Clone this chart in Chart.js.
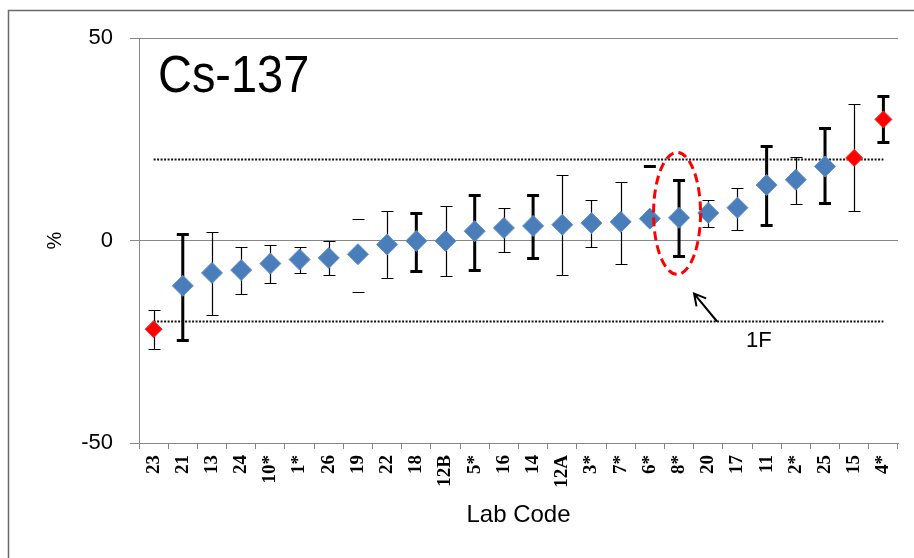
<!DOCTYPE html>
<html>
<head>
<meta charset="utf-8">
<script src="https://cdn.jsdelivr.net/npm/chart.js@4"></script>
<style>
  html, body { margin:0; padding:0; background:#fff; overflow:hidden; }
  #wrap { position:relative; width:914px; height:558px; }
</style>
</head>
<body>
<div id="wrap"><canvas id="labChart"></canvas></div>
<script>
// Cs-137 intercomparison: relative deviation of each lab from the reference value (%)
const labCodes = ["23","21","13","24","10*","1*","26","19","22","18","12B","5*","16","14","12A","3*","7*","6*","8*","20","17","11","2*","25","15","4*"];
const deviation  = [-21.9,-11.2,-8.0,-7.3,-5.7,-4.7,-4.3,-3.4,-1.0,-0.1,-0.1,2.3,3.1,3.6,3.9,4.3,4.6,5.4,5.6,6.8,8.1,13.7,15.0,18.3,20.4,29.9];
const upperBound = [-17.1,1.6,2.1,-1.6,-1.0,-1.6,-0.1,5.4,7.3,6.9,8.5,11.3,8.1,11.3,16.1,10.0,14.5,18.4,14.9,10.0,13.0,23.4,20.7,27.7,33.6,35.7];
const lowerBound = [-26.8,-24.6,-18.3,-13.3,-10.6,-8.1,-8.4,-12.7,-9.2,-7.6,-8.8,-7.2,-2.8,-4.4,-8.4,-1.6,-5.9,5.4,-3.8,3.4,2.6,3.8,8.9,9.3,7.3,24.4];

const outsideLimit = ["23","15","4*"];                            // red markers
const thickBars = ["21","18","5*","14","6*","8*","11","25","4*"]; // heavy error bars
const capsOnly = ["19","6*"];                                     // no stem drawn
const limitPct = 20;
const yTicks = [-50, 0, 50];

const flaggedLab = "8*";
const flagText = "1F";
const titleText = "Cs-137";

const BLUE = "#4a7ebb";
const RED = "#ff0000";
const GRID = "#878787";

// outer frame of the chart object (only top/left edges fall inside the page)
const frame = {
  id: "frame",
  beforeDraw(chart) {
    const ctx = chart.ctx;
    ctx.save();
    ctx.fillStyle = "#fff";
    ctx.fillRect(0, 0, chart.width, chart.height);
    ctx.strokeStyle = "#6a6a6a";
    ctx.lineWidth = 1.5;
    ctx.beginPath();
    ctx.moveTo(8.5, chart.height);
    ctx.lineTo(8.5, 10.5);
    ctx.lineTo(chart.width, 10.5);
    ctx.stroke();
    ctx.restore();
  }
};

// vertical error bars with caps, drawn under the markers
const errorBars = {
  id: "errorBars",
  beforeDatasetsDraw(chart) {
    const { ctx, scales: { x, y } } = chart;
    ctx.save();
    ctx.strokeStyle = "#000";
    labCodes.forEach((lab, i) => {
      const thick = thickBars.includes(lab);
      let px = x.getPixelForValue(i);
      if (!thick) px = Math.round(px) + 0.5;
      const top = Math.round(y.getPixelForValue(upperBound[i])) + 0.5;
      const bot = Math.round(y.getPixelForValue(lowerBound[i])) + 0.5;
      const cap = 6;
      ctx.lineWidth = thick ? 3 : 1.2;
      ctx.beginPath();
      if (!capsOnly.includes(lab)) {
        ctx.moveTo(px, top);
        ctx.lineTo(px, bot);
      }
      ctx.moveTo(px - cap, top);
      ctx.lineTo(px + cap, top);
      ctx.moveTo(px - cap, bot);
      ctx.lineTo(px + cap, bot);
      ctx.stroke();
    });
    ctx.restore();
  }
};

// title, flagged-lab ellipse, arrow and its label
const notes = {
  id: "notes",
  afterDraw(chart) {
    const { ctx, chartArea: a, scales: { x, y } } = chart;

    ctx.save();
    ctx.fillStyle = "#000";
    ctx.font = '51px "Liberation Sans", Arial, sans-serif';
    ctx.textBaseline = "alphabetic";
    ctx.translate(a.left + 19, a.top + 54);
    ctx.scale(0.92, 1);
    ctx.fillText(titleText, 0, 0);
    ctx.restore();

    const fx = x.getPixelForValue(labCodes.indexOf(flaggedLab));

    ctx.save();
    ctx.strokeStyle = RED;
    ctx.lineWidth = 3;
    ctx.setLineDash([9, 5]);
    ctx.beginPath();
    ctx.ellipse(fx - 2, y.getPixelForValue(6.7), 23.5, 61, 0, 0, Math.PI * 2);
    ctx.stroke();
    ctx.restore();

    const tx = fx + 38, ty = y.getPixelForValue(-limitPct);
    const hx = fx + 15, hy = y.getPixelForValue(-13.1);
    const ang = Math.atan2(hy - ty, hx - tx);
    const head = 13;
    ctx.save();
    ctx.strokeStyle = "#000";
    ctx.lineWidth = 2;
    ctx.beginPath();
    ctx.moveTo(tx, ty);
    ctx.lineTo(hx, hy);
    ctx.moveTo(hx - head * Math.cos(ang - 0.5), hy - head * Math.sin(ang - 0.5));
    ctx.lineTo(hx, hy);
    ctx.lineTo(hx - head * Math.cos(ang + 0.5), hy - head * Math.sin(ang + 0.5));
    ctx.stroke();

    ctx.fillStyle = "#000";
    ctx.font = '22px "Liberation Sans", Arial, sans-serif';
    ctx.fillText(flagText, fx + 67, y.getPixelForValue(-26.2));
    ctx.restore();
  }
};

new Chart(document.getElementById("labChart"), {
  type: "line",
  data: {
    labels: labCodes,
    datasets: [
      {
        label: "Deviation",
        data: deviation,
        showLine: false,
        pointStyle: "rectRot",
        pointRadius: labCodes.map(l => outsideLimit.includes(l) ? 8.5 : 10.5),
        pointBackgroundColor: labCodes.map(l => outsideLimit.includes(l) ? RED : BLUE),
        pointBorderColor: labCodes.map(l => outsideLimit.includes(l) ? "#ff2a2a" : "#6390c8"),
        pointBorderWidth: 1
      },
      {
        label: "+limit",
        data: labCodes.map(() => limitPct),
        borderColor: "#111",
        borderWidth: 2,
        borderDash: [2, 1.5],
        pointRadius: 0,
        fill: false
      },
      {
        label: "-limit",
        data: labCodes.map(() => -limitPct),
        borderColor: "#111",
        borderWidth: 2,
        borderDash: [2, 1.5],
        pointRadius: 0,
        fill: false
      }
    ]
  },
  options: {
    responsive: true,
    maintainAspectRatio: false,
    animation: false,
    events: [],
    layout: { padding: { top: 38, right: 16, left: 0, bottom: 0 } },
    plugins: { legend: { display: false }, tooltip: { enabled: false } },
    scales: {
      x: {
        offset: true,
        grid: { offset: true, drawOnChartArea: false, color: GRID, tickLength: 6 },
        border: { color: GRID },
        ticks: {
          autoSkip: false, minRotation: 90, maxRotation: 90, padding: 6, color: "#000",
          font: { family: '"Liberation Serif", serif', size: 19, weight: "bold" }
        },
        title: {
          display: true, text: "Lab Code", color: "#000",
          font: { family: '"Liberation Sans", Arial, sans-serif', size: 24 },
          padding: { top: 0, bottom: 28 }
        },
        afterFit(s) { s.height = 115; }
      },
      y: {
        min: -50,
        max: 50,
        afterBuildTicks(s) { s.ticks = yTicks.map(v => ({ value: v })); },
        grid: { color: GRID, tickLength: 9 },
        border: { color: GRID },
        ticks: {
          color: "#000", padding: 17,
          font: { family: '"Liberation Sans", Arial, sans-serif', size: 22 }
        },
        title: {
          display: true, text: "%", color: "#000",
          font: { family: '"Liberation Sans", Arial, sans-serif', size: 20 },
          padding: { top: 43, bottom: 0 }
        },
        afterFit(s) { s.width = 139; }
      }
    }
  },
  plugins: [frame, errorBars, notes]
});
</script>
</body>
</html>
